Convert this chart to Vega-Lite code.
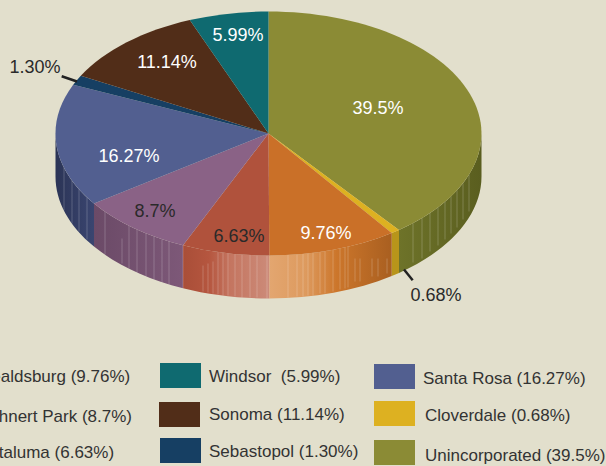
{
"$schema":"https://vega.github.io/schema/vega-lite/v6.json",
"width":606,"height":466,"padding":0,"autosize":{"type":"none"},
"background":"#E2DFCC",
"config":{"view":{"stroke":null},"font":"Liberation Sans"},
"data":{"values":[
{"name":"Unincorporated","share":39.5,"pieLabel":"39.5%","legendLabel":"Unincorporated (39.5%)"},
{"name":"Cloverdale","share":0.68,"pieLabel":"0.68%","legendLabel":"Cloverdale (0.68%)"},
{"name":"Healdsburg","share":9.76,"pieLabel":"9.76%","legendLabel":"Healdsburg (9.76%)"},
{"name":"Petaluma","share":6.63,"pieLabel":"6.63%","legendLabel":"Petaluma (6.63%)"},
{"name":"Rohnert Park","share":8.7,"pieLabel":"8.7%","legendLabel":"Rohnert Park (8.7%)"},
{"name":"Santa Rosa","share":16.27,"pieLabel":"16.27%","legendLabel":"Santa Rosa (16.27%)"},
{"name":"Sebastopol","share":1.3,"pieLabel":"1.30%","legendLabel":"Sebastopol (1.30%)"},
{"name":"Sonoma","share":11.14,"pieLabel":"11.14%","legendLabel":"Sonoma (11.14%)"},
{"name":"Windsor","share":5.99,"pieLabel":"5.99%","legendLabel":"Windsor\u00a0 (5.99%)"}
]},
"encoding":{
"x":{"field":"share","type":"quantitative","axis":null,"scale":{"domain":[0,100],"range":[268.5,268.5],"zero":false,"nice":false}},
"y":{"field":"share","type":"quantitative","axis":null,"scale":{"domain":[0,100],"range":[133.5,133.5],"zero":false,"nice":false}}
},
"layer":[
{"transform":[{"filter":"datum.name==='Unincorporated'"}],
 "mark":{"type":"point","filled":true,"opacity":1,"size":4,"strokeWidth":0,"shape":"M213,0A213,122 0 0 1 130.5,96.4L130.5,139.4A213,122 0 0 0 213,43Z",
 "fill":{"gradient":"linear","x1":0,"y1":0,"x2":1,"y2":0,"stops":[{"offset":0,"color":"#6E7329"},{"offset":1,"color":"#5A5E1F"}]}}},
{"transform":[{"filter":"datum.name==='Cloverdale'"}],
 "mark":{"type":"point","filled":true,"opacity":1,"size":4,"strokeWidth":0,"shape":"M130.5,96.4A213,122 0 0 1 123.2,99.5L123.2,142.5A213,122 0 0 0 130.5,139.4Z","fill":"#B8951A"}},
{"transform":[{"filter":"datum.name==='Healdsburg'"}],
 "mark":{"type":"point","filled":true,"opacity":1,"size":4,"strokeWidth":0,"shape":"M123.2,99.5A213,122 0 0 1 0.8,122L0.8,165A213,122 0 0 0 123.2,142.5Z",
 "fill":{"gradient":"linear","x1":0,"y1":0,"x2":1,"y2":0,"stops":[{"offset":0,"color":"#E3A670"},{"offset":0.3,"color":"#DD9A5E"},{"offset":0.55,"color":"#CC762B"},{"offset":1,"color":"#A95F20"}]}}},
{"transform":[{"filter":"datum.name==='Petaluma'"}],
 "mark":{"type":"point","filled":true,"opacity":1,"size":4,"strokeWidth":0,"shape":"M0.8,122A213,122 0 0 1 -85.5,111.8L-85.5,154.8A213,122 0 0 0 0.8,165Z",
 "fill":{"gradient":"linear","x1":0,"y1":0,"x2":1,"y2":0,"stops":[{"offset":0,"color":"#A94E38"},{"offset":0.3,"color":"#B5563F"},{"offset":0.55,"color":"#C47560"},{"offset":1,"color":"#CC8B79"}]}}},
{"transform":[{"filter":"datum.name==='Rohnert Park'"}],
 "mark":{"type":"point","filled":true,"opacity":1,"size":4,"strokeWidth":0,"shape":"M-85.5,111.8A213,122 0 0 1 -174.5,70L-174.5,113A213,122 0 0 0 -85.5,154.8Z",
 "fill":{"gradient":"linear","x1":0,"y1":0,"x2":1,"y2":0,"stops":[{"offset":0,"color":"#6B4A67"},{"offset":1,"color":"#7D5878"}]}}},
{"transform":[{"filter":"datum.name==='Santa Rosa'"}],
 "mark":{"type":"point","filled":true,"opacity":1,"size":4,"strokeWidth":0,"shape":"M-174.5,70A213,122 0 0 1 -213,0L-213,43A213,122 0 0 0 -174.5,113Z",
 "fill":{"gradient":"linear","x1":0,"y1":0,"x2":1,"y2":0,"stops":[{"offset":0,"color":"#2B3456"},{"offset":1,"color":"#3A4570"}]}}},
{"mark":{"type":"point","filled":false,"opacity":0.2,"size":4,"strokeWidth":1,"color":"#FFFFFF"},
 "transform":[{"filter":"indexof(['Unincorporated','Healdsburg','Petaluma','Rohnert Park','Santa Rosa'],datum.name)>=0"}],
 "encoding":{"shape":{"field":"name","type":"nominal","legend":null,"scale":{
 "domain":["Unincorporated","Healdsburg","Petaluma","Rohnert Park","Santa Rosa"],
 "range":[
 "M144.5,89.7V129M153.5,84.5V125M161.5,79.5V118M169.5,73.8V112M176.5,68.3V106M182.5,62.8V100M188.5,56.8V94M194.5,49.8V86M200.5,41.2V78",
 "M19.5,121.5V164M28.5,120.9V163M34.5,120.4V163M39.5,119.9V162M44.5,119.3V162M51.5,118.4V160M56.5,117.6V160M64.5,116.3V158M71.5,114.9V156M76.5,113.9V155M79.5,113.2V154M86.5,125V148M91.5,125V148M103.5,125V143M109.5,125V143M118.5,125V140",
 "M-65.5,132V158M-60.5,130V159M-55.5,128V160M-50.5,118.5V161M-45.5,119.2V162M-40.5,119.8V162M-33.5,120.5V163M-26.5,121V164M-18.5,121.5V164M-11.5,121.8V164M-1.5,122V165",
 "M-163.5,78.2V121M-146.5,105V130M-139.5,92.2V135M-131.5,96V139M-122.5,99.8V143M-114.5,102.9V146M-106.5,105.7V149M-99.5,107.9V151M-85.5,111.8V155",
 "M-204.5,34V77M-196.5,47V90M-189.5,55.7V98M-181.5,63.9V106"
 ]}}}},
{"mark":{"type":"point","filled":true,"opacity":1,"size":4,"strokeWidth":0},
 "encoding":{
 "shape":{"field":"name","type":"nominal","legend":null,"scale":{
 "domain":["Unincorporated","Cloverdale","Healdsburg","Petaluma","Rohnert Park","Santa Rosa","Sebastopol","Sonoma","Windsor"],
 "range":[
 "M0,0L0,-122A213,122 0 0 1 130.5,96.4Z",
 "M0,0L130.5,96.4A213,122 0 0 1 123.2,99.5Z",
 "M0,0L123.2,99.5A213,122 0 0 1 0.8,122Z",
 "M0,0L0.8,122A213,122 0 0 1 -85.5,111.8Z",
 "M0,0L-85.5,111.8A213,122 0 0 1 -174.5,70Z",
 "M0,0L-174.5,70A213,122 0 0 1 -195.3,-48.7Z",
 "M0,0L-195.3,-48.7A213,122 0 0 1 -187.7,-57.7Z",
 "M0,0L-187.7,-57.7A213,122 0 0 1 -78.7,-113.4Z",
 "M0,0L-78.7,-113.4A213,122 0 0 1 0,-122Z"
 ]}},
 "color":{"field":"name","type":"nominal","legend":null,"scale":{
 "domain":["Unincorporated","Cloverdale","Healdsburg","Petaluma","Rohnert Park","Santa Rosa","Sebastopol","Sonoma","Windsor"],
 "range":["#8B8B35","#DDB121","#CA7028","#B0523C","#8A6286","#525F90","#163F63","#512D18","#0F6A70"]}}}},
{"transform":[{"filter":"datum.name==='Sebastopol'||datum.name==='Cloverdale'"}],
 "mark":{"type":"point","filled":false,"opacity":1,"size":4,"strokeWidth":2.5,"color":"#222222"},
 "encoding":{"shape":{"field":"name","type":"nominal","legend":null,"scale":{"domain":["Sebastopol","Cloverdale"],
 "range":["M-206.8,-57.3L-191.5,-52","M135.5,136L144.2,146.7"]}}}},
{"mark":{"type":"text","fontSize":18,"font":"Liberation Sans","align":"center","baseline":"middle","dy":2},
 "encoding":{
 "text":{"field":"pieLabel"},
 "x":{"field":"share","type":"quantitative","axis":null,"scale":{"domain":[0.68,1.3,5.99,6.63,8.7,9.76,11.14,16.27,39.5],"range":[436,35,238,239,155,326,167,129,378],"zero":false,"nice":false}},
 "y":{"field":"share","type":"quantitative","axis":null,"scale":{"domain":[0.68,1.3,5.99,6.63,8.7,9.76,11.14,16.27,39.5],"range":[294,66,34,235,210,232,61,155,107],"zero":false,"nice":false}},
 "color":{"field":"name","type":"nominal","legend":null,"scale":{
 "domain":["Unincorporated","Cloverdale","Healdsburg","Petaluma","Rohnert Park","Santa Rosa","Sebastopol","Sonoma","Windsor"],
 "range":["#FFFFFF","#2A2A2A","#FFFFFF","#2A2A2A","#2A2A2A","#FFFFFF","#2A2A2A","#FFFFFF","#FFFFFF"]}}}},
{"mark":{"type":"point","filled":true,"opacity":1,"size":4,"strokeWidth":0,"shape":"M-20.5,-12.5L20.5,-12.5L20.5,12.5L-20.5,12.5Z"},
 "encoding":{
 "x":{"field":"share","type":"quantitative","axis":null,"scale":{"domain":[0.68,1.3,5.99,6.63,8.7,9.76,11.14,16.27,39.5],"range":[394.5,180.5,180.5,-50.5,-50.5,-50.5,179.5,394.5,394.5],"zero":false,"nice":false}},
 "y":{"field":"share","type":"quantitative","axis":null,"scale":{"domain":[0.68,1.3,5.99,6.63,8.7,9.76,11.14,16.27,39.5],"range":[413.5,450.5,375.5,451,414,375.5,414.5,376.5,452.5],"zero":false,"nice":false}},
 "color":{"field":"name","type":"nominal","legend":null,"scale":{
 "domain":["Unincorporated","Cloverdale","Healdsburg","Petaluma","Rohnert Park","Santa Rosa","Sebastopol","Sonoma","Windsor"],
 "range":["#8B8B35","#DDB121","#CA7028","#B0523C","#8A6286","#525F90","#163F63","#512D18","#0F6A70"]}}}},
{"mark":{"type":"text","fontSize":17,"font":"Liberation Sans","align":"left","baseline":"middle","color":"#333333","dy":1},
 "encoding":{
 "text":{"field":"legendLabel"},
 "x":{"field":"share","type":"quantitative","axis":null,"scale":{"domain":[0.68,1.3,5.99,6.63,8.7,9.76,11.14,16.27,39.5],"range":[425,209,209,-22,-23,-21,209,423,425],"zero":false,"nice":false}},
 "y":{"field":"share","type":"quantitative","axis":null,"scale":{"domain":[0.68,1.3,5.99,6.63,8.7,9.76,11.14,16.27,39.5],"range":[415,451,376,452,416,376,414,378,455],"zero":false,"nice":false}}}}
],
"resolve":{"scale":{"x":"independent","y":"independent","color":"independent","shape":"independent"}}
}
